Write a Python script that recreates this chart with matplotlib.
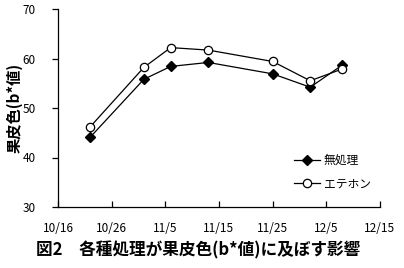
import matplotlib
matplotlib.use("Agg")
import matplotlib.pyplot as plt
import pandas as pd

plt.rcParams['font.family'] = ['Noto Sans CJK JP', 'DejaVu Sans']

dates = ["2000-10-22", "2000-11-01", "2000-11-06", "2000-11-13", "2000-11-25", "2000-12-02", "2000-12-08"]
mushori = [44.1, 55.8, 58.4, 59.2, 56.9, 54.2, 58.7]
ethephon = [46.2, 58.2, 62.2, 61.7, 59.4, 55.5, 57.9]
tick_dates = ["2000-10-16", "2000-10-26", "2000-11-05", "2000-11-15", "2000-11-25", "2000-12-05", "2000-12-15"]
tick_labels = ["10/16", "10/26", "11/5", "11/15", "11/25", "12/5", "12/15"]
yticks = [30, 40, 50, 60, 70]
series_names = ["無処理", "エテホン"]
ylabel = "果皮色(b*値)"
title = "図2　各種処理が果皮色(b*値)に及ぼす影響"

x = pd.to_datetime(dates)
tx = pd.to_datetime(tick_dates)

fig = plt.figure(figsize=(4.04, 2.68), dpi=100)
ax = fig.add_axes([58/404, 1-207/268, (380-58)/404, (207-9)/268])

ax.plot(x, mushori, color='black', lw=0.9, marker='D', ms=5, mfc='black', mec='black', label=series_names[0])
ax.plot(x, ethephon, color='black', lw=0.9, marker='o', ms=6, mfc='white', mec='black', mew=0.9, label=series_names[1])

ax.set_xlim(tx[0], tx[-1])
ax.set_ylim(30, 70)
ax.set_xticks(tx)
ax.set_xticklabels(tick_labels)
ax.set_yticks(yticks)
ax.spines['top'].set_visible(False)
ax.spines['right'].set_visible(False)
ax.tick_params(axis='x', direction='in', length=4, width=0.9, labelsize=8.5, pad=11)
ax.tick_params(axis='y', direction='out', length=4, width=0.9, labelsize=8.5, pad=12)
for s in ax.spines.values():
    s.set_linewidth(0.9)

ax.set_ylabel(ylabel, fontsize=11, fontweight='bold', va='center')
ax.yaxis.set_label_coords(-0.135, 0.5)

ax.legend(loc='lower left', bbox_to_anchor=(0.70, 0.03), frameon=False, fontsize=8.5,
          handlelength=2.2, labelspacing=0.9, handletextpad=0.3)

fig.text(0.49, 1-250/268, title, ha='center', va='center', fontsize=12, fontweight='bold')

fig.savefig("out.png", dpi=100)
